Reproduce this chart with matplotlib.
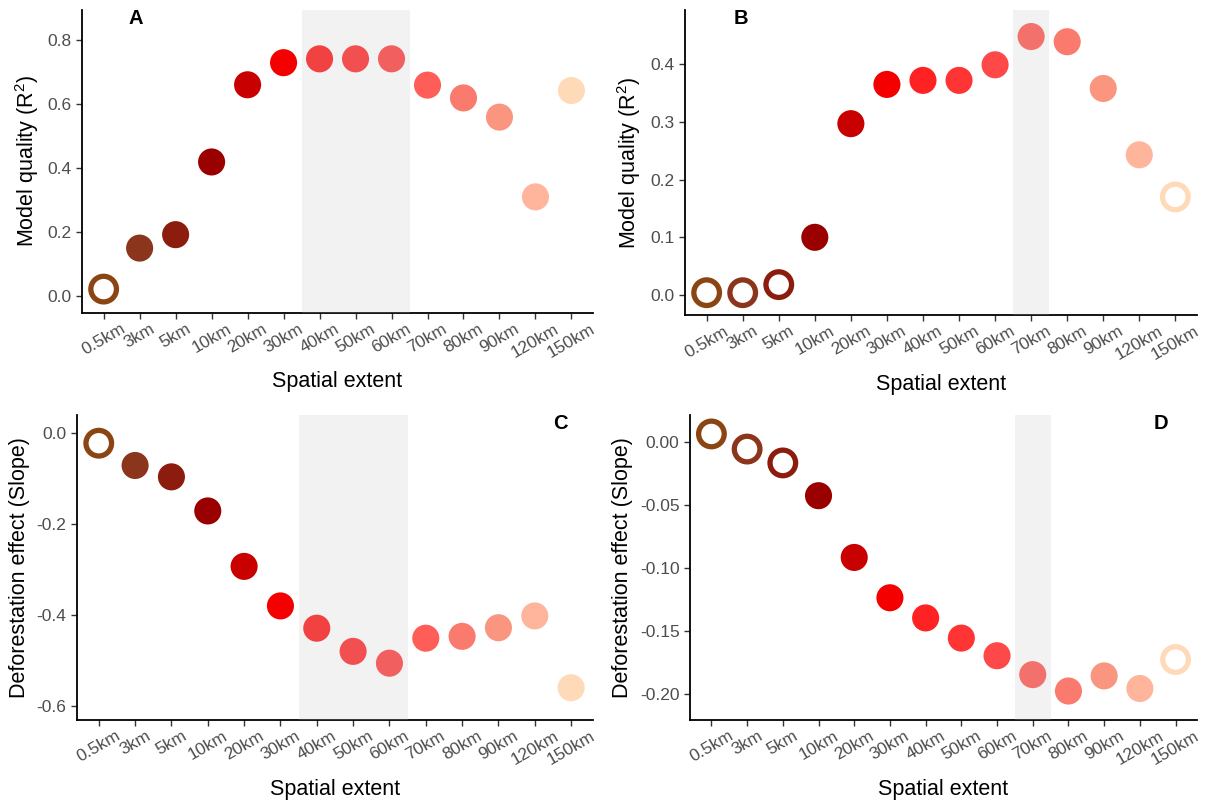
import matplotlib
matplotlib.use("Agg")
import matplotlib.pyplot as plt

plt.rcParams['font.family'] = ['Liberation Sans', 'DejaVu Sans']
plt.rcParams['mathtext.fontset'] = 'custom'
plt.rcParams['mathtext.rm'] = 'Liberation Sans'
plt.rcParams['mathtext.it'] = 'Liberation Sans:italic'
plt.rcParams['axes.unicode_minus'] = False

# categories
extents = ['0.5km', '3km', '5km', '10km', '20km', '30km', '40km', '50km',
           '60km', '70km', '80km', '90km', '120km', '150km']
colores = ['#8B4513', '#8B351C', '#8B1C0E', '#9B0000', '#C80000', '#F50000',
           '#FF2222', '#FF3535', '#FF4848', '#FF5E58', '#FA7A6E', '#FA9580',
           '#FFB49C', '#FFDAB9']

# panel values
r2_a = [0.022, 0.150, 0.192, 0.419, 0.660, 0.729, 0.741, 0.741, 0.741,
        0.659, 0.619, 0.559, 0.310, 0.642]
r2_b = [0.004, 0.004, 0.018, 0.100, 0.297, 0.365, 0.372, 0.372, 0.399,
        0.448, 0.439, 0.358, 0.243, 0.170]
slope_c = [-0.022, -0.071, -0.096, -0.171, -0.293, -0.380, -0.429, -0.480,
           -0.506, -0.451, -0.447, -0.428, -0.402, -0.560]
slope_d = [0.006, -0.006, -0.017, -0.043, -0.092, -0.124, -0.140, -0.156,
           -0.170, -0.185, -0.198, -0.186, -0.196, -0.173]

# non-significant (open) points
abiertos_a = ['0.5km']
abiertos_b = ['0.5km', '3km', '5km', '150km']
abiertos_c = ['0.5km']
abiertos_d = ['0.5km', '3km', '5km', '150km']

# best extents (shaded)
mejor_a = ['40km', '50km', '60km']
mejor_b = ['70km']
mejor_c = ['40km', '50km', '60km']
mejor_d = ['70km']

paneles = [
    ('A', r2_a, abiertos_a, mejor_a, 'Model quality (R$^2$)',
     [0.0, 0.2, 0.4, 0.6, 0.8], '{:.1f}', (-0.052, 0.894), 0.9,
     [0.0677, 0.609, 0.4216, 0.3787]),
    ('B', r2_b, abiertos_b, mejor_b, 'Model quality (R$^2$)',
     [0.0, 0.1, 0.2, 0.3, 0.4], '{:.1f}', (-0.035, 0.494), 0.95,
     [0.5652, 0.606, 0.4224, 0.3815]),
    ('C', slope_c, abiertos_c, mejor_c, 'Deforestation effect (Slope)',
     [0.0, -0.2, -0.4, -0.6], '{:.1f}', (-0.631, 0.040), 12.7,
     [0.0635, 0.1, 0.4257, 0.3812]),
    ('D', slope_d, abiertos_d, mejor_d, 'Deforestation effect (Slope)',
     [0.0, -0.05, -0.10, -0.15, -0.20], '{:.2f}', (-0.221, 0.021), 12.6,
     [0.5693, 0.1, 0.4183, 0.3812]),
]


def dibujar(fig, letra, valores, abiertos, mejor, ylabel, yticks, fmt, ylim,
            xletra, pos):
    ax = fig.add_axes(pos)
    x = list(range(len(extents)))
    for i, (cat, v, c) in enumerate(zip(extents, valores, colores)):
        if cat in abiertos:
            ax.scatter(i, v, s=340, facecolors='none', edgecolors=c,
                       linewidths=3.8, zorder=3)
        else:
            ax.scatter(i, v, s=380, facecolors=c, edgecolors='none', zorder=3)
    idx = [extents.index(m) for m in mejor]
    ax.axvspan(min(idx) - 0.5, max(idx) + 0.5, color='#BEBEBE', alpha=0.2,
               lw=0, zorder=4)
    ax.set_xlim(-0.6, len(extents) - 0.4)
    ax.set_ylim(*ylim)
    ax.set_xticks(x)
    ax.set_xticklabels(extents, rotation=30, ha='center')
    ax.set_yticks(yticks)
    ax.set_yticklabels([fmt.format(t) for t in yticks])
    ax.tick_params(labelsize=12.5, labelcolor='#4D4D4D', color='#333333',
                   length=4, width=1)
    ax.tick_params(axis='x', pad=2)
    ax.spines['top'].set_visible(False)
    ax.spines['right'].set_visible(False)
    ax.spines['left'].set_linewidth(1.3)
    ax.spines['bottom'].set_linewidth(1.3)
    ax.set_xlabel('Spatial extent', fontsize=15.5, labelpad=8)
    ax.set_ylabel(ylabel, fontsize=15.5, labelpad=5)
    ax.text(xletra, 0.972, letra, transform=ax.get_xaxis_transform(),
            fontsize=14.5, fontweight='bold', ha='center', va='center')
    return ax


fig = plt.figure(figsize=(12.12, 8), dpi=100)
for p in paneles:
    dibujar(fig, *p)
fig.savefig('out.png', dpi=100, facecolor='white')
